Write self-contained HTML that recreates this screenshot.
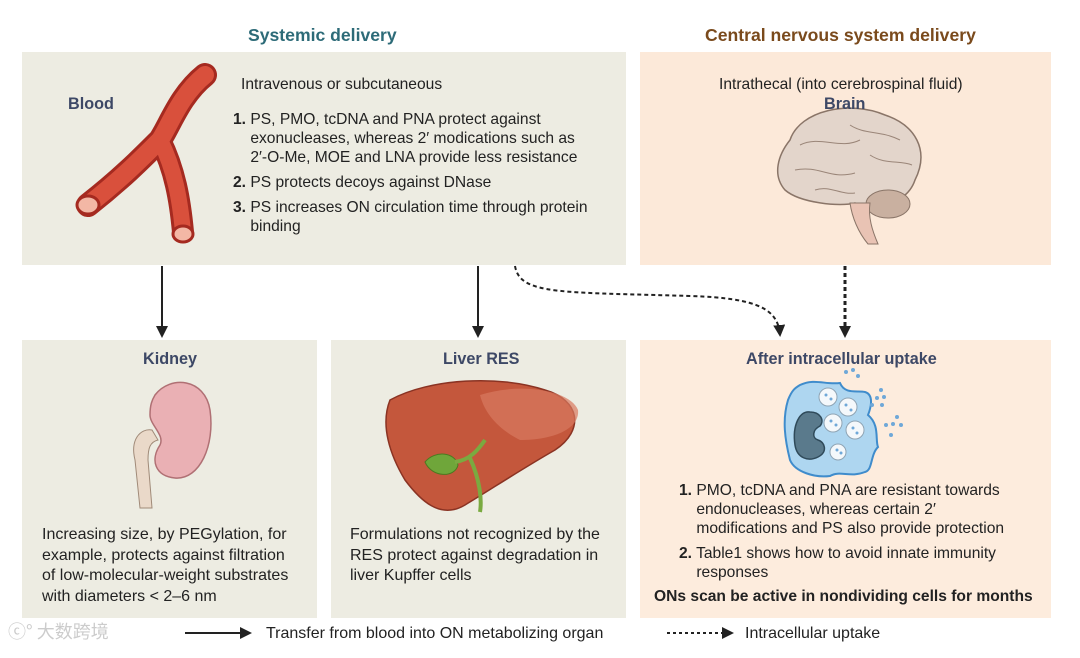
<!DOCTYPE html>
<html><head><meta charset="utf-8"><style>
body{margin:0;width:1080px;height:658px;background:#fff;position:relative;overflow:hidden;font-family:"Liberation Sans",sans-serif;color:#222}
.p{position:absolute}
.box{position:absolute}
.t{position:absolute;font-size:16px;line-height:19px;white-space:nowrap}
.s{font-size:15.6px}
.h{position:absolute;font-weight:bold;font-size:16.2px;color:#3d4866;white-space:nowrap}
b{font-weight:bold}
</style></head><body>
<div class="box" style="left:22px;top:52px;width:604px;height:213px;background:#edece2"></div>
<div class="box" style="left:640px;top:52px;width:411px;height:213px;background:#fce9d9"></div>
<div class="box" style="left:22px;top:340px;width:295px;height:278px;background:#edece2"></div>
<div class="box" style="left:331px;top:340px;width:295px;height:278px;background:#edece2"></div>
<div class="box" style="left:640px;top:340px;width:411px;height:278px;background:#fdecdd"></div>

<svg class="p" style="left:0;top:0" width="1080" height="658">
<defs><marker id="b" markerWidth="12" markerHeight="12" refX="10" refY="6" orient="auto" markerUnits="userSpaceOnUse"><path d="M0,0L12,6L0,12z" fill="#222"/></marker></defs>
<line x1="162" y1="266" x2="162" y2="336" stroke="#222" stroke-width="2" marker-end="url(#b)"/>
<line x1="478" y1="266" x2="478" y2="336" stroke="#222" stroke-width="2" marker-end="url(#b)"/>
<path d="M515,266 C520,295 560,292 690,296 C760,298 778,310 780,335" fill="none" stroke="#222" stroke-width="2" stroke-dasharray="4,3" marker-end="url(#b)"/>
<line x1="845" y1="266" x2="845" y2="336" stroke="#222" stroke-width="3" stroke-dasharray="4,3" marker-end="url(#b)"/>
<line x1="185" y1="633" x2="250" y2="633" stroke="#222" stroke-width="2" marker-end="url(#b)"/>
<line x1="667" y1="633" x2="732" y2="633" stroke="#222" stroke-width="2" stroke-dasharray="3,3" marker-end="url(#b)"/>
<g fill="none" stroke-linecap="round">
<path d="M88,205 C120,180 140,160 160,140 C170,125 180,95 205,75" stroke="#a52a20" stroke-width="24"/>
<path d="M160,140 C175,170 180,200 183,232" stroke="#a52a20" stroke-width="22"/>
<path d="M88,205 C120,180 140,160 160,140 C170,125 180,95 205,75" stroke="#d9503c" stroke-width="18"/>
<path d="M160,140 C175,170 180,200 183,232" stroke="#d9503c" stroke-width="16"/>
</g>
<ellipse cx="88" cy="205" rx="11" ry="9" fill="#f3b7a5" stroke="#a52a20" stroke-width="3"/>
<ellipse cx="183" cy="234" rx="10" ry="8" fill="#f3b7a5" stroke="#a52a20" stroke-width="3"/>
<path d="M790,140 C800,110 850,100 885,115 C915,125 930,150 915,180 C910,195 895,205 880,203 C870,212 860,210 855,203 C840,207 800,203 785,190 C772,175 778,155 790,140z" fill="#e3d5cb" stroke="#8a7568" stroke-width="1.5"/>
<ellipse cx="888" cy="204" rx="22" ry="14" fill="#c9b0a0" stroke="#8a7568"/>
<path d="M850,203 C852,217 858,232 868,244 L878,244 C872,230 868,217 870,203z" fill="#e9c3b4" stroke="#8a7568"/>
<path d="M800,145 C820,135 840,150 860,140 M795,170 C820,165 830,180 855,173 M850,125 C865,135 880,130 900,140 M870,155 C885,165 900,160 912,165 M815,190 C830,185 840,195 855,193" stroke="#9a8578" fill="none"/>
<path d="M155,395 C170,375 205,378 210,410 C215,445 200,480 175,478 C155,476 150,460 160,445 C165,435 150,425 150,415 C150,405 152,400 155,395z" fill="#eab0b4" stroke="#b07074" stroke-width="1.5"/>
<path d="M152,430 C140,428 130,440 135,460 L140,508 L152,508 L148,460 C148,448 150,442 158,440z" fill="#ead9c9" stroke="#a08a78"/>
<path d="M390,400 C430,378 500,375 545,390 C580,400 585,430 555,450 C520,470 490,490 465,505 C440,520 420,500 405,480 C390,455 380,425 390,400z" fill="#c4573c" stroke="#8a3323" stroke-width="1.5"/>
<path d="M480,395 C520,382 570,390 578,410 C580,428 555,440 520,440 C500,430 485,415 480,395z" fill="#d8795f" opacity=".7"/>
<path d="M425,462 C435,450 455,452 458,465 C455,478 432,478 425,462z" fill="#6fa63a" stroke="#4c7a20"/>
<path d="M455,462 C470,460 478,450 485,440 M470,458 C480,480 482,500 480,512" stroke="#7aaa40" stroke-width="4" fill="none"/>
<path d="M800,385 C815,378 825,385 840,383 C845,395 858,390 865,392 C875,395 870,410 868,415 C880,425 875,440 878,447 C870,455 873,470 865,472 C850,478 840,470 830,476 C815,478 795,472 790,460 C785,440 782,420 788,400 C792,390 795,388 800,385z" fill="#aed6f0" stroke="#3f8ccc" stroke-width="2"/>
<path d="M810,412 C800,410 792,425 795,445 C797,458 808,462 818,457 C828,452 825,442 818,440 C812,438 812,430 820,426 C825,420 820,412 810,412z" fill="#5a7a8c" stroke="#2f4a5a" stroke-width="1.5"/>
<g fill="#f4f8fb" stroke="#8fa4b4"><circle cx="828" cy="397" r="9"/><circle cx="848" cy="407" r="9"/><circle cx="833" cy="423" r="9"/><circle cx="855" cy="430" r="9"/><circle cx="838" cy="452" r="8"/></g>
<g fill="#6fa8d8"><circle cx="826" cy="395" r="1.5"/><circle cx="831" cy="399" r="1.5"/><circle cx="846" cy="405" r="1.5"/><circle cx="851" cy="410" r="1.5"/><circle cx="831" cy="421" r="1.5"/><circle cx="836" cy="425" r="1.5"/><circle cx="853" cy="428" r="1.5"/><circle cx="857" cy="433" r="1.5"/><circle cx="837" cy="450" r="1.5"/><circle cx="841" cy="453" r="1.5"/>
<circle cx="846" cy="372" r="2"/><circle cx="853" cy="370" r="2"/><circle cx="858" cy="376" r="2"/><circle cx="881" cy="390" r="2"/><circle cx="877" cy="398" r="2"/><circle cx="884" cy="397" r="2"/><circle cx="872" cy="405" r="2"/><circle cx="882" cy="405" r="2"/><circle cx="897" cy="417" r="2"/><circle cx="886" cy="425" r="2"/><circle cx="893" cy="424" r="2"/><circle cx="901" cy="425" r="2"/><circle cx="891" cy="435" r="2"/></g>
</svg>

<div class="h" style="left:248px;top:25px;font-size:17.6px;color:#2d6b78">Systemic delivery</div>
<div class="h" style="left:705px;top:25px;font-size:17.6px;color:#7a4a1c">Central nervous system delivery</div>

<div class="h" style="left:68px;top:95px">Blood</div>
<div class="t s" style="left:241px;top:75px">Intravenous or subcutaneous</div>
<div class="t s" style="left:233px;top:110px"><b>1.</b> PS, PMO, tcDNA and PNA protect against<br>&nbsp;&nbsp;&nbsp;&nbsp;exonucleases, whereas 2′ modications such as<br>&nbsp;&nbsp;&nbsp;&nbsp;2′-O-Me, MOE and LNA provide less resistance</div>
<div class="t s" style="left:233px;top:173px"><b>2.</b> PS protects decoys against DNase</div>
<div class="t s" style="left:233px;top:198px"><b>3.</b> PS increases ON circulation time through protein<br>&nbsp;&nbsp;&nbsp;&nbsp;binding</div>

<div class="t s" style="left:719px;top:75px">Intrathecal (into cerebrospinal fluid)</div>
<div class="h" style="left:824px;top:95px">Brain</div>

<div class="h" style="left:143px;top:350px">Kidney</div>
<div class="h" style="left:443px;top:350px">Liver RES</div>
<div class="h" style="left:746px;top:350px">After intracellular uptake</div>

<div class="t" style="left:42px;top:525px;line-height:20.5px">Increasing size, by PEGylation, for<br>example, protects against filtration<br>of low-molecular-weight substrates<br>with diameters &lt; 2–6 nm</div>
<div class="t" style="left:350px;top:525px;line-height:20.5px">Formulations not recognized by the<br>RES protect against degradation in<br>liver Kupffer cells</div>
<div class="t s" style="left:679px;top:481px"><b>1.</b> PMO, tcDNA and PNA are resistant towards<br>&nbsp;&nbsp;&nbsp;&nbsp;endonucleases, whereas certain 2′<br>&nbsp;&nbsp;&nbsp;&nbsp;modifications and PS also provide protection</div>
<div class="t s" style="left:679px;top:544px"><b>2.</b> Table1 shows how to avoid innate immunity<br>&nbsp;&nbsp;&nbsp;&nbsp;responses</div>
<div class="t s" style="left:654px;top:587px;font-weight:bold">ONs scan be active in nondividing cells for months</div>

<div class="t" style="left:266px;top:624px">Transfer from blood into ON metabolizing organ</div>
<div class="t" style="left:745px;top:624px">Intracellular uptake</div>
<div class="t" style="left:8px;top:622px;color:#ccc;font-size:18px;font-family:'Noto Sans CJK SC',sans-serif">ⓒ° 大数跨境</div>
</body></html>
